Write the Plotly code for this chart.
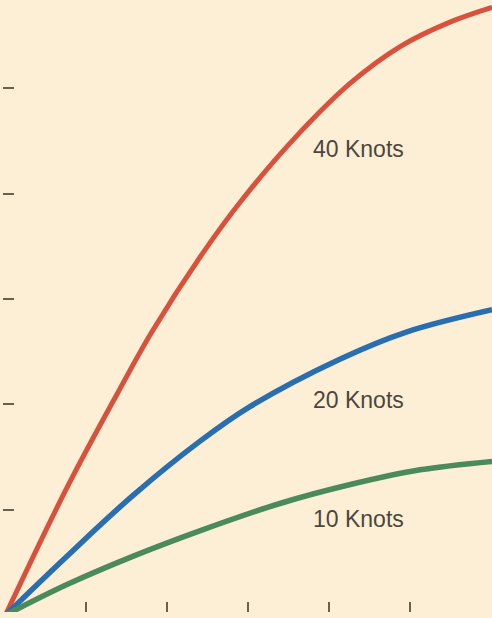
import plotly.graph_objects as go

# Curves (x, y in tick units)
x_40 = [0, 0.76, 1.38, 1.81, 2.44, 2.94, 3.55, 4.26, 4.88, 5.49, 6.01]
y_40 = [0, 1.21, 2.10, 2.69, 3.44, 3.96, 4.51, 5.05, 5.40, 5.63, 5.77]

x_20 = [0, 0.76, 1.58, 2.40, 3.02, 4.13, 4.96, 6.01]
y_20 = [0, 0.56, 1.14, 1.65, 1.98, 2.43, 2.69, 2.90]

x_10 = [0, 0.76, 1.58, 2.40, 3.39, 4.26, 5.12, 6.01]
y_10 = [0, 0.29, 0.56, 0.80, 1.06, 1.24, 1.38, 1.46]

labels = ["40 Knots", "20 Knots", "10 Knots"]
label_x = [4.36, 4.36, 4.36]
label_y = [4.43, 2.04, 0.91]

x_ticks = [1, 2, 3, 4, 5]
y_ticks = [1, 2, 3, 4, 5]

bg = "#FCEFD5"

fig = go.Figure()
fig.add_trace(go.Scatter(x=x_40, y=y_40, mode="lines", line_shape="spline",
                         line=dict(color="#D9513C", width=5)))
fig.add_trace(go.Scatter(x=x_20, y=y_20, mode="lines", line_shape="spline",
                         line=dict(color="#2A6EB2", width=5.5)))
fig.add_trace(go.Scatter(x=x_10, y=y_10, mode="lines", line_shape="spline",
                         line=dict(color="#4B8B5B", width=5.5)))

for txt, lx, ly in zip(labels, label_x, label_y):
    fig.add_annotation(x=lx, y=ly, text=txt, showarrow=False,
                       font=dict(family="Liberation Sans, Arial", size=23, color="#4D463C"))

fig.update_xaxes(range=[-0.03, 6.01], tickvals=x_ticks, showticklabels=False,
                 ticks="inside", ticklen=10, tickwidth=1.5, tickcolor="#6D5F4B",
                 showgrid=False, zeroline=False, showline=False)
fig.update_yaxes(range=[0.03, 5.84], tickvals=y_ticks, showticklabels=False,
                 ticks="inside", ticklen=11, tickwidth=2, tickcolor="#6D5F4B",
                 showgrid=False, zeroline=False, showline=False)

fig.update_layout(width=492, height=618, margin=dict(l=3, r=0, t=0, b=6),
                  paper_bgcolor=bg, plot_bgcolor=bg, showlegend=False)

# drop the page's default body margin so the chart sits at the window corner
fig.write_html("out.html", config={"displayModeBar": False},
               post_script="document.body.style.margin='0px';")
